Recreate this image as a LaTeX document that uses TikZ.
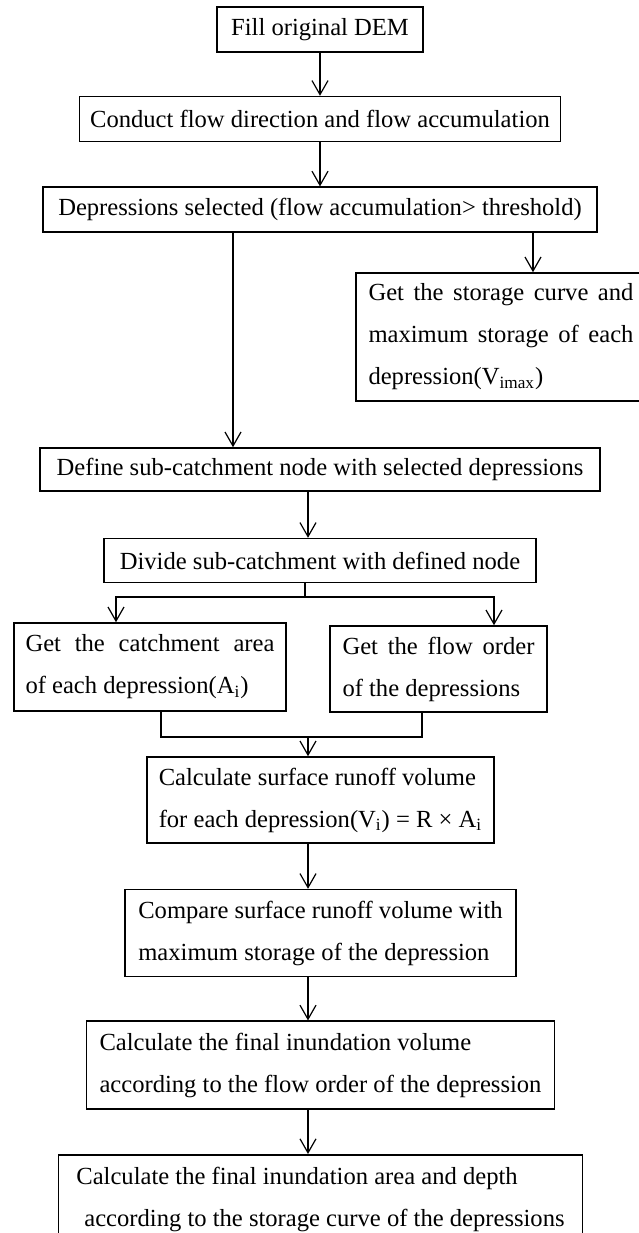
\documentclass[tikz,border=0pt]{standalone}
\usepackage{fontspec}
\setmainfont{Liberation Serif}
\usetikzlibrary{positioning, arrows.meta}

\begin{document}
\begin{tikzpicture}[
    x=0.5pt, y=-0.5pt,
    box/.style={rectangle, draw, line width=0.8pt, inner sep=0pt, font=\fontsize{12.3}{21}\selectfont},
    onebox/.style={box, minimum height=22.5pt},
    twobox/.style={box, minimum height=44pt, align=left},
    arrow/.style={-{Straight Barb[length=7pt,width=8pt]}, line width=0.6pt},
    link/.style={line width=0.6pt}
]

% Page frame
\useasboundingbox (0,0) rectangle (638,1233);

% Stretched lines inside the narrow boxes
\newcommand{\stretchline}[2]{\makebox[#1][s]{#2}}

% Top column
\node[onebox, minimum width=103pt] at (320,29.5) (fill) {Fill original DEM};
\node[onebox, minimum width=240.5pt, below=21.5pt of fill] (flowdir) {Conduct flow direction and flow accumulation};
\node[onebox, minimum width=277pt, below=22pt of flowdir] (select) {Depressions selected (flow accumulation> threshold)};

% Storage side box
\node[twobox, minimum width=145pt, minimum height=64pt] at (501,337) (store) {%
    \stretchline{132.5pt}{Get the storage curve and}\\
    \stretchline{132.5pt}{maximum storage of each}\\
    depression(V\textsubscript{imax})};

% Sub-catchments
\node[onebox, minimum width=280pt, minimum height=21.5pt] at (320,469.5) (define) {Define sub-catchment node with selected depressions};
\node[onebox, minimum width=216pt, minimum height=22pt, below=23pt of define] (divide) {Divide sub-catchment with defined node};

\node[twobox, minimum width=136pt] at (150,667) (area) {%
    \stretchline{124.5pt}{Get the catchment area}\\
    of each depression(A\textsubscript{i})};
\node[twobox, minimum width=108.5pt, minimum height=43pt] at (438.5,669) (order) {%
    \stretchline{96pt}{Get the flow order}\\
    of the depressions};

% Bottom column
\node[twobox, minimum width=173.5pt, minimum height=43pt] at (320.5,800) (runoff) {%
    Calculate surface runoff volume\\
    for each depression(V\textsubscript{i}) = R × A\textsubscript{i}};
\node[twobox, minimum width=195.5pt, minimum height=43.5pt, below=22.5pt of runoff] (compare) {%
    Compare surface runoff volume with\\
    maximum storage of the depression};
\node[twobox, minimum width=234pt, below=21.5pt of compare] (volume) {%
    Calculate the final inundation volume\\
    according to the flow order of the depression};
\node[twobox, minimum width=262pt, minimum height=45pt, below=22pt of volume] (depth) {%
    Calculate the final inundation area and depth\\
    \hspace*{4pt}according to the storage curve of the depressions};

% Connectors
\draw[arrow] (fill) -- (flowdir);
\draw[arrow] (flowdir) -- (select);
\draw[arrow] ([xshift=106.5pt]select.south) -- ([xshift=106.5pt]select.south |- store.north);
\draw[arrow] ([xshift=-43.5pt]select.south) -- ([xshift=-43.5pt]select.south |- define.north);
\draw[arrow] ([xshift=-6pt]define.south) -- ([xshift=-6pt]define.south |- divide.north);

\coordinate (split) at (305,597);
\draw[link] (divide.south -| split) -- (split);
\draw[arrow] (split) -| ([xshift=-17pt]area.north);
\draw[arrow] (split) -| ([xshift=27.75pt]order.north);

\coordinate (join) at (308,737);
\draw[link] ([xshift=5.5pt]area.south) |- (join);
\draw[link] ([xshift=-8.25pt]order.south) |- (join);
\draw[arrow] (join) -- (join |- runoff.north);
\draw[arrow] (runoff.south -| join) -- (join |- compare.north);
\draw[arrow] (compare.south -| join) -- (join |- volume.north);
\draw[arrow] (volume.south -| join) -- (join |- depth.north);

\end{tikzpicture}
\end{document}
